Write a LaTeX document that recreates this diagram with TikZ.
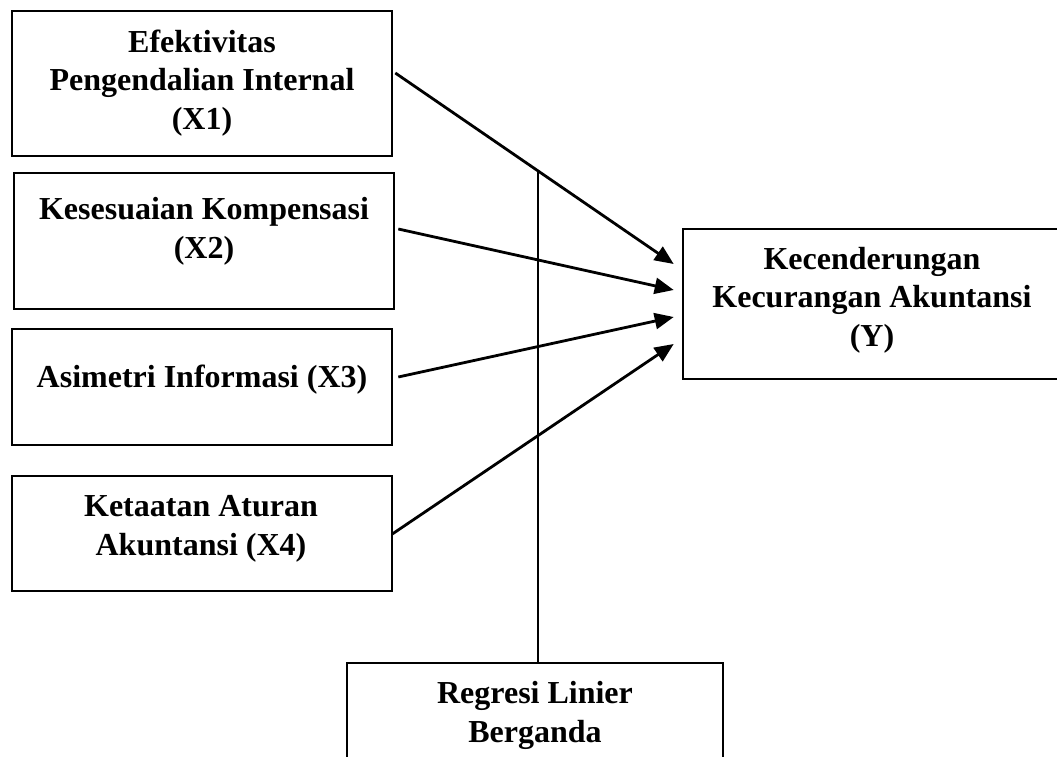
\documentclass[tikz,border=0pt]{standalone}
\usepackage{fontspec}
\setmainfont{Liberation Serif}
\usetikzlibrary{arrows.meta,calc}
\begin{document}
\begin{tikzpicture}[x=1pt,y=-1pt,
  box/.style={draw,line width=2.6pt,inner sep=0pt,rectangle},
  lbl/.style={font=\fontsize{32}{38.5}\selectfont\bfseries,align=center,inner sep=0pt,anchor=base},
  arr/.style={line width=2.8pt,-{Triangle[length=19pt,width=16pt]}},
  ln/.style={line width=2.6pt}]
\clip (0,0) rectangle (1057,757);
\useasboundingbox (0,0) rectangle (1057,757);
\fill[white] (0,0) rectangle (1057,757);
% boxes
\node[box,minimum width=380pt,minimum height=145pt] (x1) at (202,83.5) {};
\node[box,minimum width=380pt,minimum height=136pt] (x2) at (204,241) {};
\node[box,minimum width=380pt,minimum height=116pt] (x3) at (202,387) {};
\node[box,minimum width=380pt,minimum height=115pt] (x4) at (202,533.5) {};
\node[box,minimum width=378pt,minimum height=150pt] (y) at (872,304) {};
\node[box,minimum width=376pt,minimum height=130pt] (reg) at (535,728) {};
% texts
\node[lbl] (t1) at (202,129) {Efektivitas\\Pengendalian Internal\\(X1)};
\node[lbl] (t2) at (204,258) {Kesesuaian Kompensasi\\(X2)};
\node[lbl] (t3) at (202,387) {Asimetri Informasi (X3)};
\node[lbl] (t4) at (201,555) {Ketaatan Aturan\\Akuntansi (X4)};
\node[lbl] (ty) at (872,346) {Kecenderungan\\Kecurangan Akuntansi\\(Y)};
\node[lbl] (tr) at (535,742) {Regresi Linier\\Berganda};
% connectors
\draw[arr] ([xshift=2pt,yshift=10.5pt]x1.east) -- ([xshift=-8pt,yshift=40pt]y.west);
\draw[arr] ([xshift=3pt,yshift=12pt]x2.east) -- ([xshift=-8pt,yshift=14pt]y.west);
\draw[arr] ([xshift=5pt,yshift=10pt]x3.east) -- ([xshift=-8pt,yshift=-13pt]y.west);
\draw[arr] ([xshift=-1pt,yshift=-0.5pt]x4.east) -- ([xshift=-8pt,yshift=-40pt]y.west);
\coordinate (j) at (538,171);
\draw[ln] (reg.north -| j) -- (j);
\end{tikzpicture}
\end{document}
